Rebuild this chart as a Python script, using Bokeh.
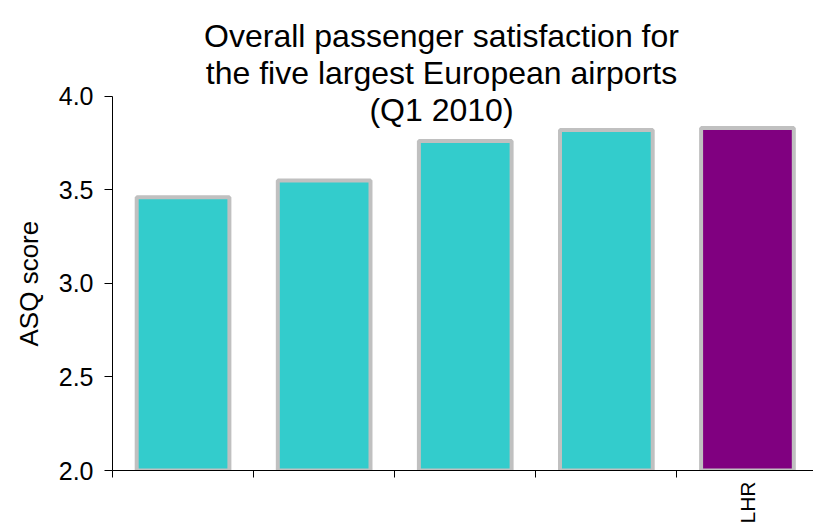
import math
from bokeh.plotting import figure
from bokeh.models import Range1d, FixedTicker, Label, NumeralTickFormatter, ColumnDataSource, Title
from bokeh.embed import file_html
from bokeh.resources import INLINE

# ---- data ----
airports = ["", "", "", "", "LHR"]
scores = [3.46, 3.55, 3.76, 3.82, 3.83]
bar_colors = ["#33CCCC", "#33CCCC", "#33CCCC", "#33CCCC", "#800080"]
y_ticks = [2.0, 2.5, 3.0, 3.5, 4.0]
title_lines = ["Overall passenger satisfaction for",
               "the five largest European airports",
               "(Q1 2010)"]
y_label = "ASQ score"
y_min, y_max = 2.0, 4.0

# ---- layout ----
W, H = 813, 526
LEFT, BOTTOM = 112, 56
CAT_PX = 141.1          # pixels per category
PX_PER_UNIT = 187.15    # pixels per score unit
FONT = "Liberation Sans"
n = len(airports)
frame_h = H - BOTTOM
x_end = (W - LEFT) / CAT_PX
y_end = y_min + frame_h / PX_PER_UNIT   # room above 4.0 for the title

p = figure(width=W, height=H, output_backend="svg", toolbar_location=None,
           x_range=Range1d(0, x_end), y_range=Range1d(y_min, y_end),
           min_border=0, min_border_left=LEFT, min_border_right=0,
           min_border_top=0, min_border_bottom=BOTTOM)
p.outline_line_color = None
p.grid.visible = False
p.background_fill_color = "white"
p.border_fill_color = "white"

src = ColumnDataSource(dict(x=[i + 0.5 for i in range(n)], top=scores, color=bar_colors))
p.vbar(x="x", top="top", bottom=y_min, width=0.657, source=src,
       fill_color="color", line_color="#C0C0C0", line_width=4)

# x axis: tick marks at category boundaries (minor), names at centres (major)
named = [i + 0.5 for i, a in enumerate(airports) if a]
xa = p.xaxis[0]
xa.ticker = FixedTicker(ticks=named, minor_ticks=list(range(n)))
xa.major_label_overrides = {i + 0.5: a for i, a in enumerate(airports) if a}
xa.major_label_orientation = math.pi / 2
xa.major_label_standoff = 4
xa.major_label_text_font = FONT
xa.major_label_text_font_size = "21px"
xa.major_label_text_color = "black"
xa.major_tick_out = 0
xa.major_tick_in = 0
xa.major_tick_line_color = None
xa.minor_tick_out = 7
xa.minor_tick_in = 0
xa.minor_tick_line_color = "black"
xa.axis_line_color = "black"

ya = p.yaxis[0]
ya.ticker = FixedTicker(ticks=y_ticks, minor_ticks=[])
ya.bounds = (y_min, y_max)
ya.formatter = NumeralTickFormatter(format="0.0")
ya.major_tick_out = 8
ya.major_tick_in = 0
ya.minor_tick_out = 0
ya.minor_tick_in = 0
ya.major_label_standoff = 11
ya.major_label_text_font = FONT
ya.major_label_text_font_size = "25px"
ya.major_label_text_color = "black"
ya.axis_line_color = "black"
ya.major_tick_line_color = "black"

# y axis title, placed along the 2.0-4.0 span (not the taller frame)
LABEL_BOTTOM_PX = 346
p.add_layout(Title(text=y_label, align="left", offset=frame_h - LABEL_BOTTOM_PX,
                   standoff=23, text_font=FONT, text_font_size="26px",
                   text_font_style="normal", text_color="black"), "left")

# title lines (overlapping the plot area like the original)
for k, line in enumerate(title_lines):
    p.add_layout(Label(x=441 - LEFT, y=frame_h - (35 + 37 * k),
                       x_units="screen", y_units="screen", text=line,
                       text_font=FONT, text_font_size="32px", text_color="black",
                       text_align="center", text_baseline="alphabetic"))

open("out.html", "w").write(file_html(p, INLINE))
